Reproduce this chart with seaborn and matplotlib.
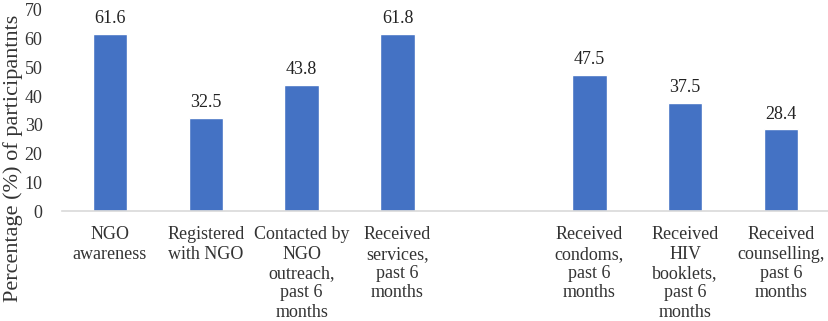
import matplotlib
matplotlib.use("Agg")
import matplotlib.pyplot as plt
import seaborn as sns
import pandas as pd

categories = [
    "NGO\nawareness",
    "Registered\nwith NGO",
    "Contacted by\nNGO\noutreach,\npast 6\nmonths",
    "Received\nservices,\npast 6\nmonths",
    "Received\ncondoms,\npast 6\nmonths",
    "Received\nHIV\nbooklets,\npast 6\nmonths",
    "Received\ncounselling,\npast 6\nmonths",
]
values = [61.6, 32.5, 43.8, 61.8, 47.5, 37.5, 28.4]
gap_label = " "
order = categories[:4] + [gap_label] + categories[4:]
y_ticks = [0, 10, 20, 30, 40, 50, 60, 70]
y_label = "Percentage (%) of participantnts"

sns.set_theme(style="white")
plt.rcParams["font.family"] = ["Liberation Serif", "DejaVu Serif"]

df = pd.DataFrame({"cat": categories, "val": values})

fig = plt.figure(figsize=(8.29, 3.21), dpi=100)
ax = fig.add_axes([62 / 829, 1 - 211 / 321, 1 - 62 / 829, 201 / 321])
sns.barplot(data=df, x="cat", y="val", order=order, color="#4472C4",
            saturation=1, width=0.36, ax=ax)

for c in ax.containers:
    ax.bar_label(c, fmt="%.1f", padding=5, fontsize=13, color="#222222")

ax.set_ylim(0, 70)
ax.set_xlim(-0.5, len(order) - 0.5)
ax.set_yticks(y_ticks)
ax.tick_params(axis="y", labelsize=13, length=0, pad=14, colors="#333333")
ax.tick_params(axis="x", labelsize=13, length=0, pad=11, colors="#333333")
for lab in ax.get_xticklabels():
    lab.set_linespacing(1.18)
ax.set_xlabel("")
ax.set_ylabel(y_label, fontsize=16, color="#333333", va="center", ha="center")
ax.yaxis.set_label_coords((13 - 62) / 767, (211 - 158) / 201)
for s in ["top", "right", "left"]:
    ax.spines[s].set_visible(False)
ax.spines["bottom"].set_color("#D9D9D9")
ax.spines["bottom"].set_linewidth(1.2)
ax.grid(False)

fig.savefig("out.png", dpi=100)
